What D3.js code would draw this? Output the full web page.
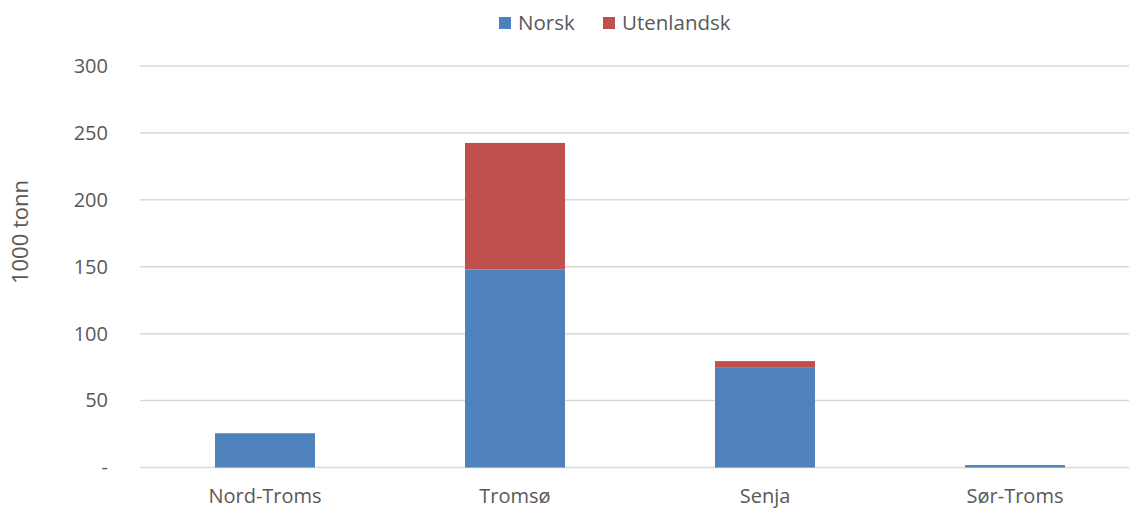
<!DOCTYPE html>
<html>
<head>
<meta charset="utf-8">
<script src="https://cdn.jsdelivr.net/npm/d3@7"></script>
<style>
  body { margin: 0; background: #fff; }
  text { font-family: "Open Sans", sans-serif; fill: #595959; }
</style>
</head>
<body>
<div id="visualization"></div>
<script>
const categories = ["Nord-Troms", "Tromsø", "Senja", "Sør-Troms"];
const norsk = [25.6, 148, 75, 1.8];
const utenlandsk = [0, 94.5, 4.5, 0];
const yTicks = [0, 50, 100, 150, 200, 250, 300];
const seriesNames = ["Norsk", "Utenlandsk"];
const colors = ["#4F81BD", "#C0504D"];

const width = 1129;
const height = 509;
const plot = {left: 140, right: 1140, top: 66, bottom: 467.5};
const fontSize = "20px";

const svg = d3.select("#visualization")
    .append("svg")
    .attr("width", width)
    .attr("height", height);

const x = d3.scaleBand()
    .domain(categories)
    .range([plot.left, plot.right])
    .paddingInner(0.6)
    .paddingOuter(0.3);

const y = d3.scaleLinear().domain([0, 300]).range([plot.bottom, plot.top]);

// gridlines
svg.append("g")
    .selectAll("line")
    .data(yTicks)
    .enter().append("line")
    .attr("x1", plot.left)
    .attr("x2", plot.right)
    .attr("y1", (d) => y(d))
    .attr("y2", (d) => y(d))
    .style("stroke", "#D9D9D9")
    .style("stroke-width", 1.5);

// stacked data
const table = categories.map((c, i) => ({cat: c, Norsk: norsk[i], Utenlandsk: utenlandsk[i]}));
const stacked = d3.stack().keys(seriesNames)(table);

svg.append("g")
    .selectAll("g")
    .data(stacked)
    .enter().append("g")
    .style("fill", (d, i) => colors[i])
    .selectAll("rect")
    .data((d) => d)
    .enter().append("rect")
    .attr("x", (d) => x(d.data.cat))
    .attr("width", x.bandwidth())
    .attr("y", (d) => y(d[1]))
    .attr("height", (d) => y(d[0]) - y(d[1]));

// y axis labels
const yAxis = svg.append("g")
    .attr("transform", `translate(${plot.left - 29}, 0)`)
    .call(d3.axisLeft(y).tickValues(yTicks).tickSize(0).tickFormat((d) => d === 0 ? "-" : d));
yAxis.select(".domain").remove();
yAxis.selectAll("text")
    .style("font-size", fontSize)
    .style("fill", "#595959")
    .style("font-family", "'Open Sans', sans-serif");

// x axis labels
const xAxis = svg.append("g")
    .attr("transform", `translate(0, ${plot.bottom + 18})`)
    .call(d3.axisBottom(x).tickSize(0));
xAxis.select(".domain").remove();
xAxis.selectAll("text")
    .style("font-size", fontSize)
    .style("fill", "#595959")
    .style("font-family", "'Open Sans', sans-serif");

// y title
svg.append("text")
    .attr("transform", "translate(20, 232) rotate(-90)")
    .attr("text-anchor", "middle")
    .attr("dy", "0.35em")
    .style("font-size", "22px")
    .text("1000 tonn");

// legend
const legendX = [499, 603];
const legend = svg.append("g")
    .selectAll("g")
    .data(seriesNames)
    .enter().append("g")
    .attr("transform", (d, i) => `translate(${legendX[i]}, 17)`);
legend.append("rect")
    .attr("width", 12)
    .attr("height", 12)
    .style("fill", (d, i) => colors[i]);
legend.append("text")
    .attr("x", 19)
    .attr("y", 6)
    .attr("dy", "0.35em")
    .style("font-size", "20.5px")
    .text((d) => d);
</script>
</body>
</html>
